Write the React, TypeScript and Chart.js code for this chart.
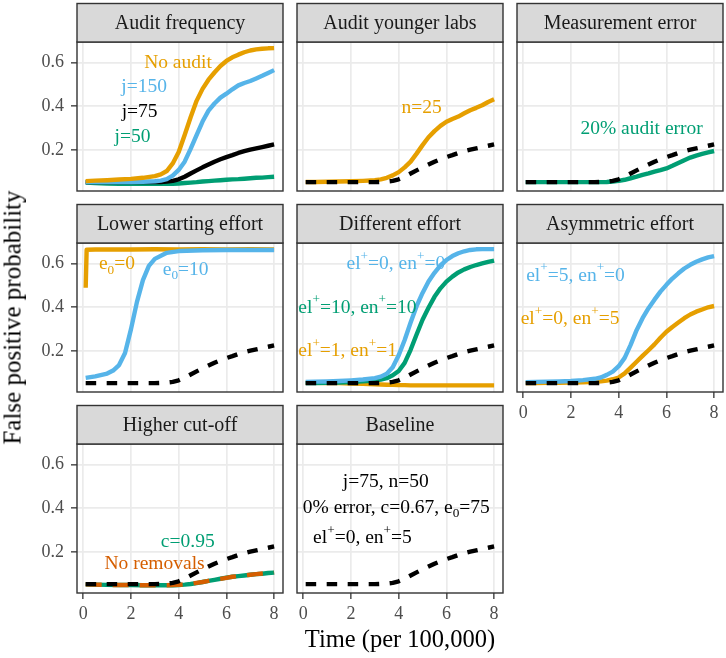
import React, { useEffect, useRef } from "react";
import { Chart, registerables } from "chart.js";
Chart.register(...registerables);

const FONT = "'Liberation Serif', 'Times New Roman', 'DejaVu Serif', serif";

// ---------- data ----------
const times = [0.1, 0.5, 1, 1.5, 2, 2.5, 3, 3.25, 3.5, 3.75, 4, 4.25, 4.5, 4.75, 5, 5.25, 5.5, 5.75, 6, 6.25, 6.5, 6.75, 7, 7.25, 7.5, 7.75, 8];
const xTicks = [0, 2, 4, 6, 8];
const yTicks = [0.2, 0.4, 0.6];

const baselineFP = [0.052, 0.052, 0.052, 0.052, 0.052, 0.052, 0.052, 0.053, 0.055, 0.058, 0.065, 0.077, 0.092, 0.106, 0.12, 0.133, 0.146, 0.157, 0.167, 0.176, 0.186, 0.194, 0.201, 0.207, 0.213, 0.219, 0.225];
const noAuditFP = [0.057, 0.059, 0.061, 0.064, 0.067, 0.072, 0.08, 0.088, 0.103, 0.138, 0.19, 0.268, 0.35, 0.425, 0.48, 0.522, 0.555, 0.585, 0.608, 0.625, 0.637, 0.648, 0.656, 0.661, 0.664, 0.666, 0.667];
const j150FP = [0.052, 0.052, 0.052, 0.052, 0.053, 0.054, 0.056, 0.059, 0.066, 0.082, 0.108, 0.146, 0.205, 0.268, 0.33, 0.38, 0.413, 0.44, 0.458, 0.478, 0.496, 0.507, 0.516, 0.528, 0.54, 0.553, 0.566];
const j50FP = [0.05, 0.048, 0.046, 0.045, 0.044, 0.044, 0.044, 0.044, 0.045, 0.045, 0.046, 0.048, 0.05, 0.052, 0.055, 0.057, 0.059, 0.061, 0.063, 0.065, 0.066, 0.068, 0.07, 0.072, 0.073, 0.075, 0.077];
const n25FP = [0.053, 0.053, 0.054, 0.055, 0.056, 0.058, 0.061, 0.065, 0.072, 0.083, 0.098, 0.12, 0.146, 0.183, 0.222, 0.258, 0.286, 0.31, 0.329, 0.342, 0.353, 0.368, 0.382, 0.393, 0.405, 0.42, 0.432];
const auditError20FP = [0.052, 0.052, 0.052, 0.052, 0.052, 0.052, 0.052, 0.052, 0.053, 0.055, 0.058, 0.063, 0.07, 0.077, 0.085, 0.092, 0.1, 0.107, 0.115, 0.127, 0.14, 0.153, 0.165, 0.174, 0.182, 0.189, 0.195];
const e0ZeroTimes = [0.1, 0.14, 0.5, 1, 2, 3, 4, 5, 6, 7, 8];
const e0ZeroFP = [0.49, 0.664, 0.665, 0.665, 0.665, 0.666, 0.665, 0.666, 0.665, 0.666, 0.665];
const e0TenTimes = [0.1, 0.5, 1, 1.25, 1.5, 1.75, 2, 2.25, 2.5, 2.75, 3, 3.5, 4, 5, 6, 7, 8];
const e0TenFP = [0.076, 0.083, 0.096, 0.11, 0.135, 0.19, 0.3, 0.425, 0.525, 0.59, 0.622, 0.65, 0.658, 0.662, 0.663, 0.663, 0.663];
const el0en0FP = [0.058, 0.059, 0.06, 0.062, 0.065, 0.069, 0.075, 0.082, 0.095, 0.125, 0.18, 0.25, 0.33, 0.405, 0.466, 0.518, 0.558, 0.592, 0.617, 0.635, 0.648, 0.657, 0.663, 0.666, 0.667, 0.667, 0.667];
const el10en10FP = [0.052, 0.053, 0.054, 0.055, 0.057, 0.06, 0.064, 0.068, 0.075, 0.088, 0.108, 0.145, 0.205, 0.275, 0.343, 0.398, 0.448, 0.487, 0.518, 0.541, 0.56, 0.574, 0.585, 0.594, 0.601, 0.608, 0.614];
const el1en1FP = [0.055, 0.054, 0.053, 0.052, 0.05, 0.049, 0.047, 0.046, 0.045, 0.044, 0.043, 0.043, 0.042, 0.042, 0.042, 0.042, 0.042, 0.042, 0.042, 0.042, 0.042, 0.042, 0.042, 0.042, 0.042, 0.042, 0.042];
const el5en0FP = [0.057, 0.058, 0.059, 0.06, 0.062, 0.066, 0.072, 0.078, 0.09, 0.105, 0.13, 0.168, 0.228, 0.295, 0.35, 0.396, 0.435, 0.472, 0.503, 0.532, 0.556, 0.578, 0.595, 0.609, 0.62, 0.629, 0.635];
const el0en5FP = [0.053, 0.053, 0.054, 0.054, 0.055, 0.056, 0.058, 0.06, 0.064, 0.07, 0.078, 0.097, 0.123, 0.15, 0.177, 0.203, 0.23, 0.26, 0.288, 0.31, 0.33, 0.35, 0.367, 0.38, 0.39, 0.4, 0.406];
const cutoff095FP = [0.051, 0.05, 0.049, 0.048, 0.048, 0.047, 0.047, 0.047, 0.047, 0.047, 0.048, 0.05, 0.053, 0.057, 0.062, 0.067, 0.072, 0.077, 0.082, 0.086, 0.089, 0.092, 0.095, 0.098, 0.1, 0.103, 0.105];
const noRemovalsFP = [0.051, 0.05, 0.049, 0.048, 0.048, 0.047, 0.047, 0.047, 0.047, 0.048, 0.049, 0.051, 0.054, 0.058, 0.062, 0.067, 0.072, 0.076, 0.081, 0.086, 0.089, 0.092, 0.095, 0.098, 0.101, 0.103, 0.105];

const panelTitles = ["Audit frequency", "Audit younger labs", "Measurement error", "Lower starting effort", "Different effort", "Asymmetric effort", "Higher cut-off", "Baseline"];

// ---------- styles ----------
const ORANGE = "#E69F00";
const BLUE = "#56B4E9";
const GREEN = "#009E73";
const VERMILION = "#D55E00";
const BLACK = "#000000";

const COL_X = [77, 297, 517];
const ROW_Y = [42, 243, 444];
const YW = 77;
const PW = 206;
const PH = 149;
const PR = 3;
const SH = 41;
const STRIP = 38.5;
const XH = 42;
const W = YW + PW + PR;
const H = SH + PH + XH;
const XMIN = -0.264;
const XMAX = 8.373;
const YMIN = 0.0115;
const YMAX = 0.695;
const LW = 4.4;
const DASH = [10.5, 10.5];

type Series = { x: number[]; y: number[]; color: string; dash?: number[] };
type Label = { text: string; x: number; y: number; color: string };
type Panel = { col: number; row: number; title: string; showX: boolean; showY: boolean; series: Series[]; labels: Label[] };

const base = (): Series => ({ x: times, y: baselineFP, color: BLACK, dash: DASH });

const panels: Panel[] = [
  {
    col: 0, row: 0, title: panelTitles[0], showX: false, showY: true,
    series: [
      { x: times, y: j50FP, color: GREEN },
      { x: times, y: baselineFP, color: BLACK },
      { x: times, y: j150FP, color: BLUE },
      { x: times, y: noAuditFP, color: ORANGE },
    ],
    labels: [
      { text: "No audit", x: 3.97, y: 0.597, color: ORANGE },
      { text: "j=150", x: 2.55, y: 0.487, color: BLUE },
      { text: "j=75", x: 2.36, y: 0.375, color: BLACK },
      { text: "j=50", x: 2.06, y: 0.26, color: GREEN },
    ],
  },
  {
    col: 1, row: 0, title: panelTitles[1], showX: false, showY: false,
    series: [{ x: times, y: n25FP, color: ORANGE }, base()],
    labels: [{ text: "n=25", x: 4.96, y: 0.395, color: ORANGE }],
  },
  {
    col: 2, row: 0, title: panelTitles[2], showX: false, showY: false,
    series: [{ x: times, y: auditError20FP, color: GREEN }, base()],
    labels: [{ text: "20% audit error", x: 4.96, y: 0.298, color: GREEN }],
  },
  {
    col: 0, row: 1, title: panelTitles[3], showX: false, showY: true,
    series: [
      { x: e0ZeroTimes, y: e0ZeroFP, color: ORANGE },
      { x: e0TenTimes, y: e0TenFP, color: BLUE },
      base(),
    ],
    labels: [
      { text: "e_0=0", x: 1.41, y: 0.597, color: ORANGE },
      { text: "e_0=10", x: 4.29, y: 0.574, color: BLUE },
    ],
  },
  {
    col: 1, row: 1, title: panelTitles[4], showX: false, showY: false,
    series: [
      { x: times, y: el1en1FP, color: ORANGE },
      { x: times, y: el10en10FP, color: GREEN },
      { x: times, y: el0en0FP, color: BLUE },
      base(),
    ],
    labels: [
      { text: "el^+=0, en^+=0", x: 3.88, y: 0.597, color: BLUE },
      { text: "el^+=10, en^+=10", x: 2.27, y: 0.398, color: GREEN },
      { text: "el^+=1, en^+=1", x: 1.86, y: 0.198, color: ORANGE },
    ],
  },
  {
    col: 2, row: 1, title: panelTitles[5], showX: true, showY: false,
    series: [
      { x: times, y: el0en5FP, color: ORANGE },
      { x: times, y: el5en0FP, color: BLUE },
      base(),
    ],
    labels: [
      { text: "el^+=5, en^+=0", x: 2.19, y: 0.546, color: BLUE },
      { text: "el^+=0, en^+=5", x: 1.96, y: 0.347, color: ORANGE },
    ],
  },
  {
    col: 0, row: 2, title: panelTitles[6], showX: true, showY: true,
    series: [
      { x: times, y: cutoff095FP, color: GREEN },
      { x: times, y: noRemovalsFP, color: VERMILION, dash: [16, 11] },
      base(),
    ],
    labels: [
      { text: "c=0.95", x: 4.38, y: 0.245, color: GREEN },
      { text: "No removals", x: 2.99, y: 0.145, color: VERMILION },
    ],
  },
  {
    col: 1, row: 2, title: panelTitles[7], showX: true, showY: false,
    series: [base()],
    labels: [
      { text: "j=75, n=50", x: 3.46, y: 0.523, color: BLACK },
      { text: "0% error, c=0.67, e_0=75", x: 3.9, y: 0.401, color: BLACK },
      { text: "el^+=0, en^+=5", x: 2.48, y: 0.263, color: BLACK },
    ],
  },
];

function parseRich(s: string) {
  const out: { t: string; k: number }[] = [];
  let buf = "";
  for (let i = 0; i < s.length; i++) {
    const c = s[i];
    if ((c === "^" || c === "_") && i + 1 < s.length) {
      if (buf) out.push({ t: buf, k: 0 });
      buf = "";
      out.push({ t: s[i + 1], k: c === "^" ? 1 : -1 });
      i++;
    } else buf += c;
  }
  if (buf) out.push({ t: buf, k: 0 });
  return out;
}

function drawRich(ctx: CanvasRenderingContext2D, text: string, cx: number, cy: number, color: string, fs: number) {
  const parts = parseRich(text);
  const small = fs * 0.68;
  const fontOf = (k: number) => `${k === 0 ? fs : small}px ${FONT}`;
  let total = 0;
  const widths = parts.map((p) => {
    ctx.font = fontOf(p.k);
    const w = ctx.measureText(p.t).width;
    total += w;
    return w;
  });
  let x = cx - total / 2;
  ctx.fillStyle = color;
  ctx.textAlign = "left";
  ctx.textBaseline = "middle";
  parts.forEach((p, i) => {
    ctx.font = fontOf(p.k);
    const dy = p.k === 1 ? -0.4 * fs : p.k === -1 ? 0.3 * fs : 0;
    ctx.fillText(p.t, x, cy + dy);
    x += widths[i];
  });
}

function makePlugin(p: Panel) {
  return {
    id: "facetPanel",
    afterDraw(chart: any) {
      const { ctx, chartArea: a, scales } = chart;
      ctx.save();
      p.labels.forEach((l) => {
        drawRich(ctx, l.text, scales.x.getPixelForValue(l.x), scales.y.getPixelForValue(l.y), l.color, 19.5);
      });
      ctx.strokeStyle = "#333333";
      ctx.lineWidth = 1.4;
      ctx.strokeRect(a.left, a.top, a.right - a.left, a.bottom - a.top);
      ctx.fillStyle = "#D9D9D9";
      ctx.fillRect(a.left, a.top - STRIP, a.right - a.left, STRIP);
      ctx.strokeRect(a.left, a.top - STRIP, a.right - a.left, STRIP);
      ctx.fillStyle = "#1A1A1A";
      ctx.font = `20px ${FONT}`;
      ctx.textAlign = "center";
      ctx.textBaseline = "middle";
      ctx.fillText(p.title, (a.left + a.right) / 2, a.top - STRIP / 2 + 0.5);
      ctx.restore();
    },
  };
}

function makeChart(canvas: HTMLCanvasElement, p: Panel) {
  const n = p.series.length;
  return new Chart(canvas, {
    type: "line",
    data: {
      datasets: p.series.map((s, k) => ({
        data: s.x.map((xv, j) => ({ x: xv, y: s.y[j] })),
        borderColor: s.color,
        borderWidth: LW,
        borderDash: s.dash || [],
        borderCapStyle: "butt",
        borderJoinStyle: "round",
        pointRadius: 0,
        tension: 0,
        fill: false,
        order: n - k,
      })),
    },
    options: {
      animation: false,
      responsive: false,
      maintainAspectRatio: false,
      events: [],
      layout: { padding: { top: SH, right: PR, left: 0, bottom: 0 }, autoPadding: false },
      plugins: { legend: { display: false }, tooltip: { enabled: false }, title: { display: false } },
      scales: {
        x: {
          type: "linear",
          min: XMIN,
          max: XMAX,
          afterBuildTicks: (s: any) => {
            s.ticks = xTicks.map((v) => ({ value: v }));
          },
          afterFit: (s: any) => {
            s.height = XH;
          },
          border: { display: false },
          grid: { color: "#EBEBEB", lineWidth: 1.7, drawTicks: p.showX, tickLength: 6, tickColor: "#333333", tickWidth: 1.3 },
          ticks: {
            display: p.showX,
            color: "#4D4D4D",
            font: { family: FONT, size: 18 },
            padding: 4,
            maxRotation: 0,
            autoSkip: false,
            callback: (v: any) => String(v),
          },
        },
        y: {
          type: "linear",
          min: YMIN,
          max: YMAX,
          afterBuildTicks: (s: any) => {
            s.ticks = yTicks.map((v) => ({ value: v }));
          },
          afterFit: (s: any) => {
            s.width = YW;
          },
          border: { display: false },
          grid: { color: "#EBEBEB", lineWidth: 1.7, drawTicks: p.showY, tickLength: 6, tickColor: "#333333", tickWidth: 1.3 },
          ticks: {
            display: p.showY,
            color: "#4D4D4D",
            font: { family: FONT, size: 18 },
            padding: 7,
            autoSkip: false,
            callback: (v: any) => Number(v).toFixed(1),
          },
        },
      },
    } as any,
    plugins: [makePlugin(p)],
  });
}

export default function App() {
  const refs = useRef<(HTMLCanvasElement | null)[]>([]);
  useEffect(() => {
    const charts = panels.map((p, i) => makeChart(refs.current[i] as HTMLCanvasElement, p));
    return () => charts.forEach((ch) => ch.destroy());
  }, []);
  return (
    <div style={{ position: "fixed", left: 0, top: 0, width: 726, height: 658, background: "#ffffff", overflow: "hidden" }}>
      {panels.map((p, i) => (
        <canvas
          key={i}
          ref={(el) => {
            refs.current[i] = el;
          }}
          width={W}
          height={H}
          style={{ position: "absolute", left: COL_X[p.col] - YW, top: ROW_Y[p.row] - SH, width: W, height: H }}
        />
      ))}
      <div
        style={{
          position: "absolute", left: 77, top: 626.5, width: 646, height: 25, lineHeight: "24.5px",
          fontSize: 24.5, fontFamily: FONT, color: "#000", textAlign: "center", whiteSpace: "nowrap",
        }}
      >
        Time (per 100,000)
      </div>
      <div
        style={{
          position: "absolute", left: 12.3 - 300, top: 317 - 12.5, width: 600, height: 25, lineHeight: "25px",
          fontSize: 25, fontFamily: FONT, color: "#000", textAlign: "center", whiteSpace: "nowrap",
          transform: "rotate(-90deg)", transformOrigin: "center center",
        }}
      >
        False positive probability
      </div>
    </div>
  );
}
